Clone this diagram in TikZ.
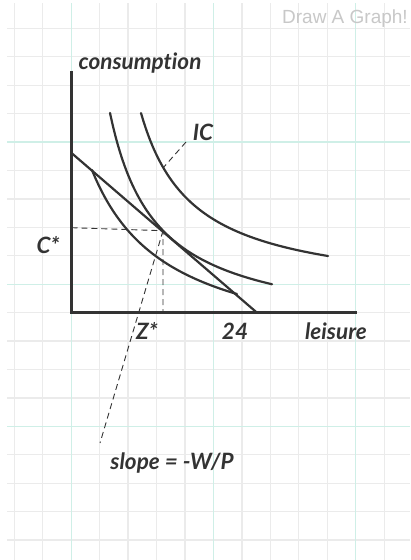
\documentclass[tikz,border=0pt]{standalone}
\usepackage{fontspec}
\setmainfont{Lato}[Ligatures=NoCommon]
\newfontfamily\uifont{Liberation Sans}
\definecolor{ink}{HTML}{333333}
\definecolor{gridgray}{HTML}{EBEBEB}
\definecolor{gridteal}{HTML}{CFEFE7}
\definecolor{uigray}{HTML}{C8C8C8}
\tikzset{
  gridline/.style={gridgray, line width=1.3pt},
  gridmajor/.style={gridteal, line width=1.3pt},
  axis/.style={ink, line width=2.6pt},
  curve/.style={ink, line width=2.2pt, line cap=round},
  guide/.style={ink, line width=0.9pt, dash pattern=on 6pt off 4pt},
  lbl/.style={text=ink, font=\bfseries\itshape\fontsize{22.5}{26}\selectfont, inner sep=0pt, anchor=center}
}
\begin{document}
\begin{tikzpicture}[x=1pt,y=-1pt]
\useasboundingbox (0,0) rectangle (410,560);
\fill[white] (0,0) rectangle (410,560);
% grid
\foreach \i in {0,...,14} \draw[gridline] ({14.3+28.45*\i},3) -- ({14.3+28.45*\i},560);
\foreach \j in {1,...,19} \draw[gridline] (7,{-0.13+28.43*\j}) -- (410,{-0.13+28.43*\j});
\foreach \i in {2,7,12} \draw[gridmajor] ({14.3+28.45*\i},3) -- ({14.3+28.45*\i},560);
\foreach \j in {5,10,15} \draw[gridmajor] (7,{-0.13+28.43*\j}) -- (410,{-0.13+28.43*\j});
% title
\node[text=uigray, font=\uifont\fontsize{19}{22}\selectfont, inner sep=0pt, anchor=east] (title) at (408,19) {Draw A Graph!};
% coordinates
\coordinate (O) at (71.5,312.7);
\coordinate (Ytop) at (71.5,70.7);
\coordinate (Xend) at (357,312.7);
\coordinate (B1) at (71.5,153);
\coordinate (B2) at (257,312.7);
\coordinate (T) at (163,230.7);
\coordinate (Cst) at (71.5,227.7);
\coordinate (Zst) at (163,312.7);
\coordinate (ICa) at (186,142);
\coordinate (ICb) at (163,168);
\coordinate (Sl) at (100,443);
% axes
\draw[axis] (Ytop) -- (O) -- (Xend);
% curves
\draw[curve] plot[domain=141:328, samples=80] (\x, {296-9570/(\x-88.7)});
\draw[curve] plot[domain=110:272, samples=80] (\x, {333-10146/(\x-63.9)});
\draw[curve] plot[domain=92:237, samples=80] (\x, {359.6-14531/(\x-15.35)});
\draw[curve] (B1) -- (B2);
% guides
\draw[guide] (Cst) -- (T) -- (Zst);
\draw[guide] (ICa) -- (ICb);
\draw[guide] (T) -- (Sl);
% labels
\node[lbl] (cons) at (140,63) {consumption};
\node[lbl] (IC) at (203,132) {IC};
\node[lbl] (Cs) at (48,245) {C*};
\node[lbl] (Zs) at (147,331) {Z*};
\node[lbl] (tf) at (235,331) {24};
\node[lbl] (leis) at (336,331) {leisure};
\node[lbl] (slope) at (172,463) {slope = -W/P};
\end{tikzpicture}
\end{document}
